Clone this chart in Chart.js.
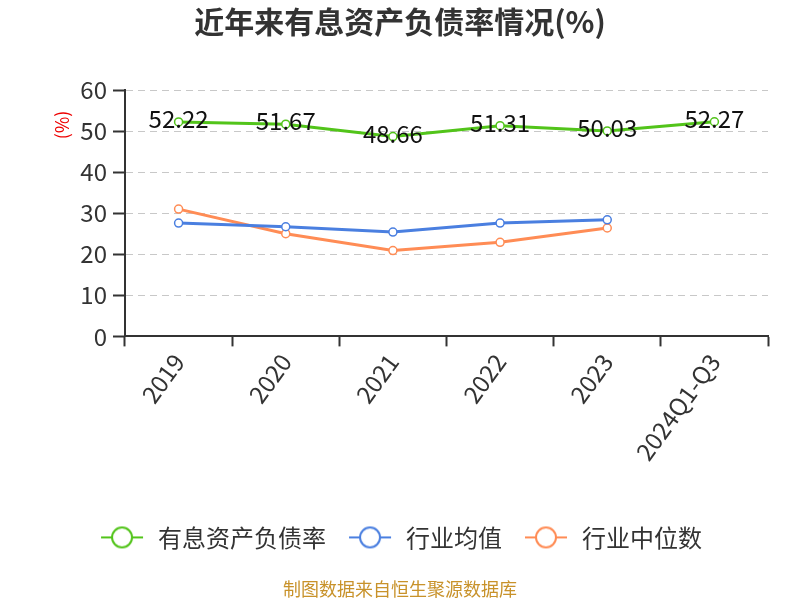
<!DOCTYPE html>
<html>
<head>
<meta charset="utf-8">
<script src="https://cdn.jsdelivr.net/npm/chart.js@4"></script>
<style>
  body { margin: 0; background: #fff; }
  #wrap { width: 800px; height: 600px; }
</style>
</head>
<body>
<div id="wrap"><canvas id="chart" width="800" height="600"></canvas></div>
<script>
const years = ['2019', '2020', '2021', '2022', '2023', '2024Q1-Q3'];
const debtRatio = [52.22, 51.67, 48.66, 51.31, 50.03, 52.27];
const industryAvg = [27.6, 26.7, 25.4, 27.6, 28.4, null];
const industryMedian = [31.0, 25.0, 20.9, 22.9, 26.4, null];
const seriesNames = ['有息资产负债率', '行业均值', '行业中位数'];
const colors = ['#52c41a', '#4a7fe0', '#ff8c55'];
const font = '"Noto Sans CJK SC", "Noto Sans", sans-serif';

// legend icon: line through a hollow circle
function legendIcon(color) {
  const c = document.createElement('canvas');
  c.width = 44; c.height = 24;
  const g = c.getContext('2d');
  g.strokeStyle = color;
  g.lineWidth = 2;
  g.beginPath(); g.moveTo(1, 12); g.lineTo(43, 12); g.stroke();
  g.fillStyle = '#fff';
  g.beginPath(); g.arc(22, 12, 10, 0, Math.PI * 2); g.fill(); g.stroke();
  return c;
}

const extras = {
  id: 'extras',
  afterDatasetsDraw(chart) {
    const ctx = chart.ctx;
    const meta = chart.getDatasetMeta(0);
    ctx.save();
    ctx.font = '24px ' + font;
    ctx.fillStyle = '#111';
    ctx.textAlign = 'center';
    ctx.textBaseline = 'middle';
    meta.data.forEach((pt, i) => {
      ctx.fillText(debtRatio[i].toFixed(2), pt.x, pt.y - 3);
    });
    // y axis unit
    ctx.translate(62, 125);
    ctx.rotate(-Math.PI / 2);
    ctx.font = '18px ' + font;
    ctx.fillStyle = '#e00';
    ctx.fillText('(%)', 0, 0);
    ctx.restore();
  }
};

function ds(label, data, color) {
  return {
    label: label,
    data: data,
    borderColor: color,
    backgroundColor: '#fff',
    borderWidth: 3,
    pointRadius: 4,
    pointBorderWidth: 1.5,
    pointBackgroundColor: '#fff',
    pointBorderColor: color,
    pointStyle: 'circle',
    tension: 0
  };
}

new Chart(document.getElementById('chart'), {
  type: 'line',
  data: {
    labels: years,
    datasets: [
      ds(seriesNames[0], debtRatio, colors[0]),
      ds(seriesNames[1], industryAvg, colors[1]),
      ds(seriesNames[2], industryMedian, colors[2])
    ]
  },
  options: {
    responsive: false,
    animation: false,
    layout: { padding: 0 },
    plugins: {
      title: {
        display: true,
        text: '近年来有息资产负债率情况(%)',
        font: { family: font, size: 30, weight: 'bold' },
        color: '#333',
        padding: { top: 4, bottom: 50 }
      },
      subtitle: {
        display: true,
        position: 'bottom',
        text: '制图数据来自恒生聚源数据库',
        font: { family: font, size: 18 },
        color: '#c8922a',
        padding: { top: 19, bottom: 0 }
      },
      legend: {
        position: 'bottom',
        labels: {
          font: { family: font, size: 24 },
          color: '#333',
          usePointStyle: true,
          pointStyleWidth: 48,
          padding: 20,
          generateLabels(chart) {
            return chart.data.datasets.map((d, i) => ({
              text: d.label,
              pointStyle: legendIcon(colors[i]),
              fillStyle: '#fff',
              strokeStyle: colors[i],
              lineWidth: 0,
              hidden: false,
              datasetIndex: i,
              fontColor: '#333'
            }));
          }
        }
      },
      tooltip: { enabled: false }
    },
    scales: {
      x: {
        offset: true,
        afterFit(scale) { scale.height = 169; },
        border: { color: '#333', width: 2 },
        grid: { offset: true, drawOnChartArea: false, tickLength: 10, tickColor: '#333', tickWidth: 2 },
        ticks: {
          font: { family: font, size: 24 },
          color: '#333',
          minRotation: 54,
          maxRotation: 54,
          padding: 2
        }
      },
      y: {
        min: 0,
        max: 60,
        afterFit(scale) { scale.width = 125; },
        border: { color: '#333', width: 2, display: true, dash: [7, 5] },
        grid: { color: '#c8c8c8', tickLength: 12, tickColor: '#333', tickWidth: 2, tickBorderDash: [] },
        ticks: {
          stepSize: 10,
          font: { family: font, size: 24 },
          color: '#333',
          padding: 6
        }
      },
      // empty right-hand spacer so the plot ends at 768 while title/legend stay centred
      spacer: {
        type: 'linear',
        position: 'right',
        afterFit(scale) { scale.width = 32; },
        grid: { display: false, drawTicks: false },
        border: { display: false },
        ticks: { display: false }
      }
    }
  },
  plugins: [extras]
});
</script>
</body>
</html>
